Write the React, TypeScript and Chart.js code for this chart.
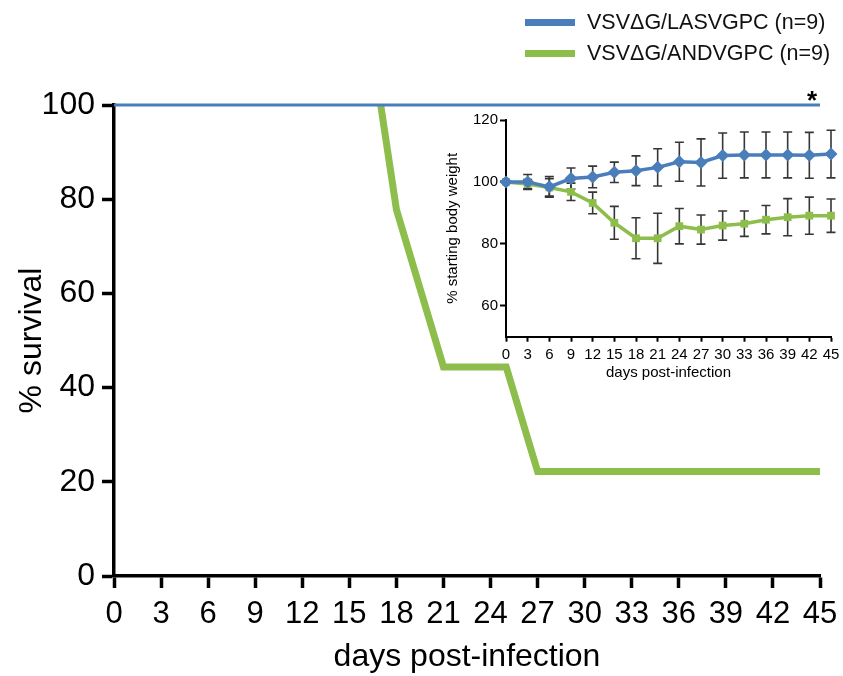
import React, { useEffect, useRef } from "react";
import { Chart, registerables } from "chart.js";

Chart.register(...registerables);

const FONT = "'Liberation Sans', Arial, Helvetica, sans-serif";

// ---------- data ----------
const seriesNames = ["VSV\u0394G/LASVGPC (n=9)", "VSV\u0394G/ANDVGPC (n=9)"];
const seriesColors = ["#4A7EBB", "#8DBE4C"];

const survivalTicksX = [0, 3, 6, 9, 12, 15, 18, 21, 24, 27, 30, 33, 36, 39, 42, 45];
const survivalTicksY = [0, 20, 40, 60, 80, 100];
const survivalXTitle = "days post-infection";
const survivalYTitle = "% survival";
const significanceMark = "*";

const lasvSurvivalDays = [0, 45];
const lasvSurvival = [100, 100];
const andvSurvivalDays = [17, 18, 21, 25, 27, 45];
const andvSurvival = [100, 77.8, 44.4, 44.4, 22.2, 22.2];

const weightDays = [0, 3, 6, 9, 12, 15, 18, 21, 24, 27, 30, 33, 36, 39, 42, 45];
const weightTicksY = [60, 80, 100, 120];
const weightXTitle = "days post-infection";
const weightYTitle = "% starting body weight";

const lasvWeight = [100, 100, 98.4, 101.1, 101.6, 103.1, 103.6, 104.7, 106.5, 106.3, 108.5, 108.7, 108.7, 108.7, 108.6, 109];
const lasvWeightSd = [0, 2.4, 3.3, 3.4, 3.5, 3.3, 4.8, 6, 6.3, 7.6, 7.3, 7.4, 7.4, 7.4, 7.4, 7.7];
const andvWeight = [100, 99.3, 98.2, 96.8, 93.2, 86.8, 81.8, 81.8, 85.7, 84.6, 85.9, 86.5, 87.8, 88.6, 89.1, 89.1];
const andvWeightSd = [0, 1.5, 2.8, 2.8, 3.5, 5.3, 6.6, 8.1, 5.7, 4.7, 4.7, 4.1, 4.6, 6, 6, 5.4];

// ---------- helpers ----------
const toPoints = (xs: number[], ys: number[]) => xs.map((x, i) => ({ x, y: ys[i] }));

const errorBarPlugin = {
  id: "errorBars",
  beforeDatasetsDraw(chart: any) {
    const { ctx } = chart;
    const xs = chart.scales.x;
    const ys = chart.scales.y;
    ctx.save();
    ctx.strokeStyle = "#363636";
    ctx.lineWidth = 1.6;
    chart.data.datasets.forEach((ds: any) => {
      if (!ds.errors) return;
      ds.data.forEach((p: any, i: number) => {
        const e = ds.errors[i];
        if (!e) return;
        const x = xs.getPixelForValue(p.x);
        const t = ys.getPixelForValue(p.y + e);
        const b = ys.getPixelForValue(p.y - e);
        const cap = 4.5;
        ctx.beginPath();
        ctx.moveTo(x, t);
        ctx.lineTo(x, b);
        ctx.moveTo(x - cap, t);
        ctx.lineTo(x + cap, t);
        ctx.moveTo(x - cap, b);
        ctx.lineTo(x + cap, b);
        ctx.stroke();
      });
    });
    ctx.restore();
  },
};

const markPlugin = {
  id: "significance",
  afterDatasetsDraw(chart: any) {
    const { ctx } = chart;
    const x = chart.scales.x.getPixelForValue(45) - 8;
    const y = chart.scales.y.getPixelForValue(100) + 4;
    ctx.save();
    ctx.fillStyle = "#000";
    ctx.font = `bold 26px ${FONT}`;
    ctx.textAlign = "center";
    ctx.textBaseline = "alphabetic";
    ctx.fillText(significanceMark, x, y);
    ctx.restore();
  },
};

function axis(opts: {
  min: number;
  max: number;
  ticks: number[];
  title: string;
  tickFont: number;
  titleFont: number;
  border: number;
  tickLength: number;
  tickPadding: number;
  titlePadding: any;
  size: number;
  horizontal: boolean;
}) {
  return {
    type: "linear",
    min: opts.min,
    max: opts.max,
    afterBuildTicks: (s: any) => {
      s.ticks = opts.ticks.map((v) => ({ value: v }));
    },
    afterFit: (s: any) => {
      if (opts.horizontal) s.height = opts.size;
      else s.width = opts.size;
      s.paddingLeft = 0;
      s.paddingRight = 0;
      s.paddingTop = 0;
      s.paddingBottom = 0;
    },
    border: { display: true, color: "#000", width: opts.border },
    grid: {
      display: true,
      drawOnChartArea: false,
      drawTicks: true,
      tickLength: opts.tickLength,
      tickWidth: opts.border,
      tickColor: "#000",
      color: "#000",
    },
    ticks: {
      color: "#000",
      font: { family: FONT, size: opts.tickFont },
      padding: opts.tickPadding,
      autoSkip: false,
      maxRotation: 0,
      minRotation: 0,
    },
    title: {
      display: true,
      text: opts.title,
      color: "#000",
      font: { family: FONT, size: opts.titleFont, lineHeight: 1.2 },
      padding: opts.titlePadding,
    },
  };
}

function SurvivalChart() {
  const ref = useRef<HTMLCanvasElement>(null);
  useEffect(() => {
    const chart = new Chart(ref.current as HTMLCanvasElement, {
      type: "line",
      data: {
        datasets: [
          {
            label: seriesNames[0],
            data: toPoints(lasvSurvivalDays, lasvSurvival),
            borderColor: seriesColors[0],
            backgroundColor: seriesColors[0],
            borderWidth: 3,
            pointRadius: 0,
            tension: 0,
            clip: false,
          },
          {
            label: seriesNames[1],
            data: toPoints(andvSurvivalDays, andvSurvival),
            borderColor: seriesColors[1],
            backgroundColor: seriesColors[1],
            borderWidth: 7,
            borderJoinStyle: "miter",
            pointRadius: 0,
            tension: 0,
            clip: false,
          },
        ],
      } as any,
      options: {
        animation: false,
        responsive: false,
        devicePixelRatio: 1,
        layout: { padding: { top: 105, right: 23, left: 0, bottom: 0 } },
        plugins: { legend: { display: false }, tooltip: { enabled: false } },
        scales: {
          x: axis({
            min: 0, max: 45, ticks: survivalTicksX, title: survivalXTitle,
            tickFont: 31, titleFont: 32, border: 3.5, tickLength: 12, tickPadding: 8,
            titlePadding: { top: 0, bottom: 0 }, size: 100, horizontal: true,
          }),
          y: axis({
            min: 0, max: 100, ticks: survivalTicksY, title: survivalYTitle,
            tickFont: 32, titleFont: 32, border: 3.5, tickLength: 12, tickPadding: 7,
            titlePadding: { top: 13, bottom: 0 }, size: 114, horizontal: false,
          }),
        } as any,
      },
      plugins: [markPlugin],
    });
    return () => chart.destroy();
  }, []);
  return <canvas ref={ref} width={843} height={676} style={{ position: "absolute", left: 0, top: 0, width: 843, height: 676 }} />;
}

function WeightChart() {
  const ref = useRef<HTMLCanvasElement>(null);
  useEffect(() => {
    const chart = new Chart(ref.current as HTMLCanvasElement, {
      type: "line",
      data: {
        datasets: [
          {
            label: seriesNames[0],
            data: toPoints(weightDays, lasvWeight),
            errors: lasvWeightSd,
            borderColor: seriesColors[0],
            backgroundColor: seriesColors[0],
            pointBorderColor: seriesColors[0],
            borderWidth: 3.5,
            pointStyle: "rectRot",
            pointRadius: 6.5,
            pointBorderWidth: 0,
            tension: 0,
            clip: false,
          },
          {
            label: seriesNames[1],
            data: toPoints(weightDays, andvWeight),
            errors: andvWeightSd,
            borderColor: seriesColors[1],
            backgroundColor: seriesColors[1],
            pointBorderColor: seriesColors[1],
            borderWidth: 3.5,
            pointStyle: "rect",
            pointRadius: 5.5,
            pointBorderWidth: 0,
            tension: 0,
            clip: false,
          },
        ],
      } as any,
      options: {
        animation: false,
        responsive: false,
        devicePixelRatio: 1,
        layout: { padding: { top: 10, right: 12, left: 0, bottom: 0 } },
        plugins: { legend: { display: false }, tooltip: { enabled: false } },
        scales: {
          x: axis({
            min: 0, max: 45, ticks: weightDays, title: weightXTitle,
            tickFont: 15, titleFont: 15, border: 2, tickLength: 5, tickPadding: 4,
            titlePadding: { top: 0, bottom: 13 }, size: 58.3, horizontal: true,
          }),
          y: axis({
            min: 50, max: 120, ticks: weightTicksY, title: weightYTitle,
            tickFont: 15, titleFont: 15, border: 2, tickLength: 6, tickPadding: 2,
            titlePadding: { top: 14, bottom: 0 }, size: 76, horizontal: false,
          }),
        } as any,
      },
      plugins: [errorBarPlugin],
    });
    return () => chart.destroy();
  }, []);
  return <canvas ref={ref} width={413} height={285} style={{ position: "absolute", left: 430, top: 110, width: 413, height: 285 }} />;
}

function Legend() {
  const rows = [22, 53];
  return (
    <>
      {seriesNames.map((name, i) => (
        <React.Fragment key={name}>
          <div
            style={{
              position: "absolute",
              left: 525,
              top: rows[i] - 3.5,
              width: 50,
              height: 7,
              background: seriesColors[i],
            }}
          />
          <div
            style={{
              position: "absolute",
              left: 587,
              top: rows[i] - 13,
              height: 26,
              lineHeight: "26px",
              fontFamily: FONT,
              fontSize: 21.5,
              color: "#111",
              whiteSpace: "nowrap",
            }}
          >
            {name}
          </div>
        </React.Fragment>
      ))}
    </>
  );
}

export default function App() {
  return (
    <div style={{ position: "absolute", left: 0, top: 0, width: 843, height: 676, background: "#fff", overflow: "hidden" }}>
      <SurvivalChart />
      <WeightChart />
      <Legend />
    </div>
  );
}
